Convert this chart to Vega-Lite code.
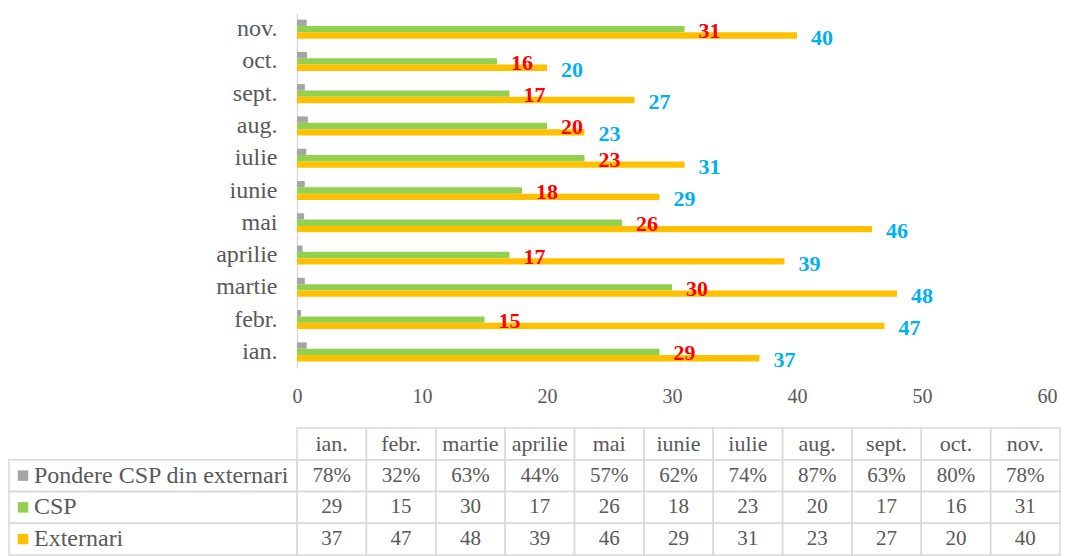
{
  "$schema": "https://vega.github.io/schema/vega-lite/v6.json",
  "padding": {"left": 8, "top": 13, "right": 0, "bottom": 0},
  "config": {"view": {"stroke": null}, "font": "Liberation Serif"},
  "datasets": {
    "main": [
      {"month": "ian.", "series": "Pondere CSP din externari", "value": 0.78},
      {"month": "febr.", "series": "Pondere CSP din externari", "value": 0.32},
      {"month": "martie", "series": "Pondere CSP din externari", "value": 0.63},
      {"month": "aprilie", "series": "Pondere CSP din externari", "value": 0.44},
      {"month": "mai", "series": "Pondere CSP din externari", "value": 0.57},
      {"month": "iunie", "series": "Pondere CSP din externari", "value": 0.62},
      {"month": "iulie", "series": "Pondere CSP din externari", "value": 0.74},
      {"month": "aug.", "series": "Pondere CSP din externari", "value": 0.87},
      {"month": "sept.", "series": "Pondere CSP din externari", "value": 0.63},
      {"month": "oct.", "series": "Pondere CSP din externari", "value": 0.80},
      {"month": "nov.", "series": "Pondere CSP din externari", "value": 0.78},
      {"month": "ian.", "series": "CSP", "value": 29},
      {"month": "febr.", "series": "CSP", "value": 15},
      {"month": "martie", "series": "CSP", "value": 30},
      {"month": "aprilie", "series": "CSP", "value": 17},
      {"month": "mai", "series": "CSP", "value": 26},
      {"month": "iunie", "series": "CSP", "value": 18},
      {"month": "iulie", "series": "CSP", "value": 23},
      {"month": "aug.", "series": "CSP", "value": 20},
      {"month": "sept.", "series": "CSP", "value": 17},
      {"month": "oct.", "series": "CSP", "value": 16},
      {"month": "nov.", "series": "CSP", "value": 31},
      {"month": "ian.", "series": "Externari", "value": 37},
      {"month": "febr.", "series": "Externari", "value": 47},
      {"month": "martie", "series": "Externari", "value": 48},
      {"month": "aprilie", "series": "Externari", "value": 39},
      {"month": "mai", "series": "Externari", "value": 46},
      {"month": "iunie", "series": "Externari", "value": 29},
      {"month": "iulie", "series": "Externari", "value": 31},
      {"month": "aug.", "series": "Externari", "value": 23},
      {"month": "sept.", "series": "Externari", "value": 27},
      {"month": "oct.", "series": "Externari", "value": 20},
      {"month": "nov.", "series": "Externari", "value": 40}
    ]
  },
  "columns": 2,
  "align": "each",
  "bounds": "flush",
  "spacing": {"row": 60, "column": 0},
  "resolve": {"scale": {"x": "independent", "y": "independent", "color": "independent"}},
  "concat": [
    {
      "width": 288,
      "height": 355,
      "data": {"values": [{}]},
      "mark": {"type": "point", "opacity": 0},
      "encoding": {}
    },
    {
      "width": 750,
      "height": 355,
      "data": {"name": "main"},
      "layer": [
        {
          "mark": {"type": "bar"},
          "encoding": {
            "y": {
              "field": "month", "type": "nominal",
              "sort": ["nov.", "oct.", "sept.", "aug.", "iulie", "iunie", "mai", "aprilie", "martie", "febr.", "ian."],
              "scale": {"paddingInner": 0.41, "paddingOuter": 0.205},
              "title": null,
              "axis": {"domainColor": "#d9d9d9", "domainWidth": 1.5, "ticks": false, "grid": false, "labelPadding": 20, "labelFont": "Liberation Serif", "labelFontSize": 24, "labelColor": "#595959"}
            },
            "yOffset": {
              "field": "series", "type": "nominal",
              "sort": ["Pondere CSP din externari", "CSP", "Externari"],
              "scale": {"paddingInner": 0, "paddingOuter": 0}
            },
            "x": {
              "field": "value", "type": "quantitative",
              "scale": {"domain": [0, 60]},
              "title": null,
              "axis": {"domain": false, "ticks": false, "grid": false, "labelFlush": false, "values": [0, 10, 20, 30, 40, 50, 60], "labelPadding": 18, "labelFont": "Liberation Serif", "labelFontSize": 20, "labelColor": "#595959"}
            },
            "color": {
              "field": "series", "type": "nominal",
              "scale": {"domain": ["Pondere CSP din externari", "CSP", "Externari"], "range": ["#a5a5a5", "#92d050", "#ffc000"]},
              "legend": null
            }
          }
        },
        {
          "transform": [{"filter": "datum.series === 'CSP'"}],
          "mark": {"type": "text", "align": "left", "baseline": "middle", "dx": 14, "dy": 1.5, "font": "Liberation Serif", "fontSize": 22, "fontWeight": "bold", "color": "#ff0000"},
          "encoding": {
            "y": {"field": "month", "type": "nominal", "sort": ["nov.", "oct.", "sept.", "aug.", "iulie", "iunie", "mai", "aprilie", "martie", "febr.", "ian."]},
            "x": {"field": "value", "type": "quantitative"},
            "text": {"field": "value", "type": "quantitative"}
          }
        },
        {
          "transform": [{"filter": "datum.series === 'Externari'"}],
          "mark": {"type": "text", "align": "left", "baseline": "middle", "dx": 14, "dy": 8.5, "font": "Liberation Serif", "fontSize": 22, "fontWeight": "bold", "color": "#00b0f0"},
          "encoding": {
            "y": {"field": "month", "type": "nominal", "sort": ["nov.", "oct.", "sept.", "aug.", "iulie", "iunie", "mai", "aprilie", "martie", "febr.", "ian."]},
            "x": {"field": "value", "type": "quantitative"},
            "text": {"field": "value", "type": "quantitative"}
          }
        }
      ]
    },
    {
      "width": 288,
      "height": 127,
      "data": {"name": "main"},
      "transform": [{"filter": "datum.month === 'ian.'"}],
      "encoding": {
        "y": {
          "field": "series", "type": "nominal",
          "scale": {"domain": ["hdr", "Pondere CSP din externari", "CSP", "Externari"], "paddingInner": 0, "paddingOuter": 0},
          "axis": null
        }
      },
      "layer": [
        {
          "mark": {"type": "rect", "fill": "transparent", "stroke": "#d9d9d9", "strokeWidth": 1.5}
        },
        {
          "mark": {"type": "point", "shape": "square", "filled": true, "size": 110, "opacity": 1, "xOffset": -130},
          "encoding": {
            "color": {
              "field": "series", "type": "nominal",
              "scale": {"domain": ["Pondere CSP din externari", "CSP", "Externari"], "range": ["#a5a5a5", "#92d050", "#ffc000"]},
              "legend": null
            }
          }
        },
        {
          "mark": {"type": "text", "align": "left", "baseline": "middle", "dx": -119, "font": "Liberation Serif", "fontSize": 24, "color": "#595959"},
          "encoding": {"text": {"field": "series", "type": "nominal"}}
        }
      ]
    },
    {
      "width": 763,
      "height": 127,
      "data": {"name": "main"},
      "layer": [
        {
          "transform": [{"filter": "datum.series === 'CSP'"}],
          "mark": {"type": "rect", "fill": "transparent", "stroke": "#d9d9d9", "strokeWidth": 1.5},
          "encoding": {
            "x": {"field": "month", "type": "nominal", "sort": ["ian.", "febr.", "martie", "aprilie", "mai", "iunie", "iulie", "aug.", "sept.", "oct.", "nov."], "scale": {"paddingInner": 0, "paddingOuter": 0}, "axis": null},
            "y": {"datum": "hdr", "type": "nominal", "scale": {"domain": ["hdr", "Pondere CSP din externari", "CSP", "Externari"], "paddingInner": 0, "paddingOuter": 0}, "axis": null}
          }
        },
        {
          "transform": [{"filter": "datum.series === 'CSP'"}],
          "mark": {"type": "text", "align": "center", "baseline": "middle", "font": "Liberation Serif", "fontSize": 22, "color": "#595959"},
          "encoding": {
            "x": {"field": "month", "type": "nominal", "sort": ["ian.", "febr.", "martie", "aprilie", "mai", "iunie", "iulie", "aug.", "sept.", "oct.", "nov."]},
            "y": {"datum": "hdr", "type": "nominal"},
            "text": {"field": "month", "type": "nominal"}
          }
        },
        {
          "mark": {"type": "rect", "fill": "transparent", "stroke": "#d9d9d9", "strokeWidth": 1.5},
          "encoding": {
            "x": {"field": "month", "type": "nominal", "sort": ["ian.", "febr.", "martie", "aprilie", "mai", "iunie", "iulie", "aug.", "sept.", "oct.", "nov."]},
            "y": {"field": "series", "type": "nominal"}
          }
        },
        {
          "transform": [{"calculate": "datum.series === 'Pondere CSP din externari' ? format(datum.value, '.0%') : format(datum.value, 'd')", "as": "label"}],
          "mark": {"type": "text", "align": "center", "baseline": "middle", "font": "Liberation Serif", "fontSize": 21, "color": "#595959"},
          "encoding": {
            "x": {"field": "month", "type": "nominal", "sort": ["ian.", "febr.", "martie", "aprilie", "mai", "iunie", "iulie", "aug.", "sept.", "oct.", "nov."]},
            "y": {"field": "series", "type": "nominal"},
            "text": {"field": "label", "type": "nominal"}
          }
        }
      ]
    }
  ]
}
